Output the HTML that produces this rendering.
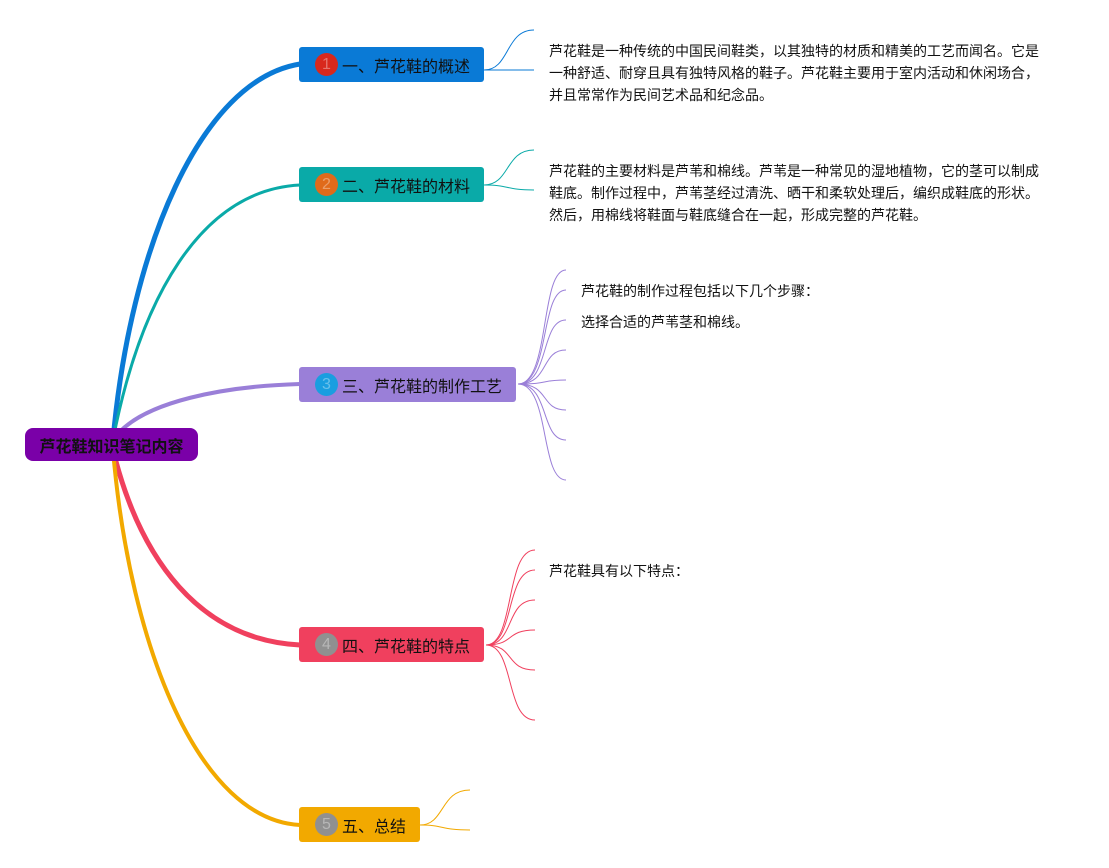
<!DOCTYPE html>
<html><head><meta charset="utf-8"><style>
body{margin:0;width:1109px;height:868px;background:#fff;position:relative;overflow:hidden;font-family:"Liberation Sans","Noto Sans CJK SC",sans-serif;}
.n{position:absolute;height:35px;border-radius:3px;font-size:16px;color:#111;display:flex;align-items:center;box-sizing:border-box;padding-left:16px;}
.c{width:23px;height:23px;border-radius:50%;color:rgba(255,255,255,.35);font-size:16px;display:flex;align-items:center;justify-content:center;margin-right:4px;}
.t{position:absolute;font-size:14px;line-height:22px;color:#111;}
</style></head><body>
<svg width="1109" height="868" style="position:absolute;left:0;top:0" fill="none">
<path d="M113 440 C130 250,200 80,300 64" stroke="#0a7ad6" stroke-width="5"/>
<path d="M113 440 C140 300,200 190,300 185" stroke="#0aaaa8" stroke-width="3"/>
<path d="M113 440 C140 400,230 386,300 384" stroke="#9a7fd8" stroke-width="4"/>
<path d="M113 450 C140 560,200 640,300 645" stroke="#f0405e" stroke-width="5"/>
<path d="M113 450 C130 650,200 820,300 825" stroke="#f2a900" stroke-width="4"/>
<g stroke="#0a7ad6" stroke-width="1"><path d="M484 70 C510 70,505 30,534 30"/><path d="M484 70 C510 70,505 70,534 70"/></g>
<g stroke="#0aaaa8" stroke-width="1"><path d="M484 185 C510 185,505 150,534 150"/><path d="M484 185 C510 185,505 190,534 190"/></g>
<g stroke="#9a7fd8" stroke-width="1">
<path d="M518 384 C550 384,540 270,566 270"/><path d="M518 384 C550 384,540 290,566 290"/><path d="M518 384 C550 384,540 320,566 320"/><path d="M518 384 C550 384,540 350,566 350"/><path d="M518 384 C550 384,540 380,566 380"/><path d="M518 384 C550 384,540 410,566 410"/><path d="M518 384 C550 384,540 440,566 440"/><path d="M518 384 C550 384,540 480,566 480"/></g>
<g stroke="#f0405e" stroke-width="1">
<path d="M486 645 C515 645,505 550,535 550"/><path d="M486 645 C515 645,505 570,535 570"/><path d="M486 645 C515 645,505 600,535 600"/><path d="M486 645 C515 645,505 630,535 630"/><path d="M486 645 C515 645,505 670,535 670"/><path d="M486 645 C515 645,505 720,535 720"/></g>
<g stroke="#f2a900" stroke-width="1"><path d="M420 825 C445 825,440 790,470 790"/><path d="M420 825 C445 825,440 830,470 830"/></g>
</svg>
<div class="n" style="left:25px;top:428px;width:173px;height:33px;background:#7a00a8;border-radius:8px;font-weight:bold;justify-content:center;padding:0">芦花鞋知识笔记内容</div>
<div class="n" style="left:299px;top:47px;width:185px;background:#0a7ad6"><span class="c" style="background:#d8281c">1</span>一、芦花鞋的概述</div>
<div class="n" style="left:299px;top:167px;width:185px;background:#0aaaa8"><span class="c" style="background:#e06a1a">2</span>二、芦花鞋的材料</div>
<div class="n" style="left:299px;top:367px;width:217px;background:#9a7fd8"><span class="c" style="background:#1a9ee0">3</span>三、芦花鞋的制作工艺</div>
<div class="n" style="left:299px;top:627px;width:185px;background:#f0405e"><span class="c" style="background:#909090">4</span>四、芦花鞋的特点</div>
<div class="n" style="left:299px;top:807px;width:121px;background:#f2a900"><span class="c" style="background:#909090">5</span>五、总结</div>
<div class="t" style="left:549px;top:40px;width:520px">芦花鞋是一种传统的中国民间鞋类，以其独特的材质和精美的工艺而闻名。它是<br>一种舒适、耐穿且具有独特风格的鞋子。芦花鞋主要用于室内活动和休闲场合，<br>并且常常作为民间艺术品和纪念品。</div>
<div class="t" style="left:549px;top:160px;width:520px">芦花鞋的主要材料是芦苇和棉线。芦苇是一种常见的湿地植物，它的茎可以制成<br>鞋底。制作过程中，芦苇茎经过清洗、晒干和柔软处理后，编织成鞋底的形状。<br>然后，用棉线将鞋面与鞋底缝合在一起，形成完整的芦花鞋。</div>
<div class="t" style="left:581px;top:280px">芦花鞋的制作过程包括以下几个步骤：</div>
<div class="t" style="left:581px;top:311px">选择合适的芦苇茎和棉线。</div>
<div class="t" style="left:549px;top:560px">芦花鞋具有以下特点：</div>
</body></html>
